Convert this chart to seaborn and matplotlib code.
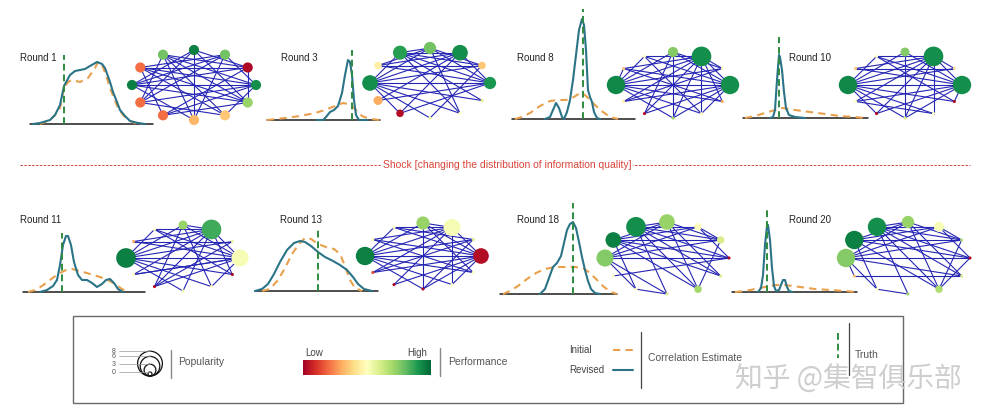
import numpy as np
import pandas as pd
import matplotlib
matplotlib.use("Agg")
import matplotlib.pyplot as plt
import seaborn as sns
from matplotlib.patches import Rectangle, Circle

# ---------------- data ----------------
round_labels = ["Round 1", "Round 3", "Round 8", "Round 10",
                "Round 11", "Round 13", "Round 18", "Round 20"]

# correlation-estimate densities (x: estimate position, y: density height)
r1_init_x = [10, 20, 25, 30, 34, 38, 42, 50, 58, 65, 68, 72, 76, 80, 84, 88, 93, 98, 105, 112]
r1_init_y = [0, 4, 9, 16, 36, 42, 44, 42, 46, 56, 62, 59, 49, 36, 26, 16, 9, 4, 1, 0]
r1_rev_x = [3, 10, 20, 25, 30, 34, 40, 45, 50, 55, 60, 67, 72, 75, 80, 83, 87, 90, 95, 100, 108, 115]
r1_rev_y = [0, 1, 4, 9, 19, 38, 49, 53, 54, 55, 58, 62, 60, 56, 42, 32, 22, 14, 8, 3, 1, 0]

r3_init_x = [0, 18, 33, 48, 58, 68, 76, 81, 85, 90, 95, 103, 113]
r3_init_y = [0, 2, 4, 7, 10, 14, 17, 16, 14, 9, 4, 1, 0]
r3_rev_x = [50, 56, 59, 63, 67, 71, 75, 78, 81, 83, 85, 87, 89, 92, 100]
r3_rev_y = [0, 0, 3, 8, 10, 14, 27, 45, 60, 58, 45, 20, 5, 0, 0]

r8_init_x = [3, 10, 18, 28, 38, 46, 54, 62, 68, 73, 78, 84, 91, 98, 106]
r8_init_y = [0, 2, 6, 13, 18, 19, 19, 22, 26, 24, 19, 13, 7, 2, 0]
r8_rev_x = [33, 38, 41, 44, 47, 50, 52, 55, 58, 61, 64, 67, 70, 72, 74, 76, 78, 80, 82, 85, 88]
r8_rev_y = [0, 2, 9, 16, 11, 2, 0, 7, 19, 39, 64, 89, 100, 94, 69, 29, 22, 17, 7, 1, 0]

r10_init_x = [2, 12, 22, 32, 39, 52, 67, 82, 97, 112, 122]
r10_init_y = [0, 2, 5, 8, 10, 8, 6, 4, 2, 1, 0]
r10_rev_x = [27, 30, 32, 34, 36, 37, 39, 41, 43, 46, 52, 62]
r10_rev_y = [0, 1, 8, 38, 63, 61, 48, 26, 10, 3, 1, 0]

r11_init_x = [5, 12, 19, 27, 35, 43, 49, 57, 67, 77, 85, 92, 99, 105]
r11_init_y = [0, 2, 6, 12, 18, 22, 23, 21, 18, 15, 12, 8, 3, 0]
r11_rev_x = [17, 24, 30, 34, 37, 40, 43, 45, 48, 51, 55, 59, 64, 69, 74, 79, 83, 87, 91, 95, 100]
r11_rev_y = [0, 2, 6, 12, 27, 47, 56, 56, 47, 30, 17, 12, 12, 9, 5, 8, 12, 13, 9, 3, 0]

r13_init_x = [7, 15, 23, 30, 37, 44, 50, 56, 63, 71, 79, 85, 90, 95, 100, 107]
r13_init_y = [0, 2, 11, 23, 37, 47, 53, 52, 47, 44, 42, 37, 25, 11, 3, 0]
r13_rev_x = [0, 7, 13, 19, 25, 32, 39, 45, 50, 56, 63, 70, 78, 85, 92, 98, 103, 109, 117]
r13_rev_y = [0, 2, 7, 17, 29, 41, 48, 50, 49, 45, 39, 34, 30, 26, 21, 14, 7, 2, 0]

r18_init_x = [3, 10, 18, 27, 36, 45, 55, 65, 75, 83, 90, 97, 104, 111, 117]
r18_init_y = [0, 3, 8, 15, 21, 25, 27, 27, 27, 26, 21, 14, 7, 2, 0]
r18_rev_x = [40, 45, 49, 53, 57, 61, 64, 67, 70, 73, 76, 79, 82, 85, 88, 91, 95, 100]
r18_rev_y = [0, 5, 16, 27, 31, 38, 51, 64, 70, 72, 66, 52, 37, 24, 13, 5, 1, 0]

r20_init_x = [3, 13, 23, 33, 43, 53, 68, 83, 98, 113, 124]
r20_init_y = [0, 1, 3, 5, 7, 7, 5, 3, 2, 1, 0]
r20_rev_x = [26, 29, 31, 33, 35, 36, 38, 40, 42, 44, 47, 49, 51, 53, 55, 57, 60]
r20_rev_y = [0, 4, 17, 47, 66, 67, 52, 24, 6, 1, 2, 7, 12, 12, 5, 1, 0]

truth_value = [34, 85, 71, 36, 39, 63, 73, 35]
truth_height = [69, 70, 110, 81, 59, 61, 91, 82]

# network: popularity (0-8) and performance (0-1) of 12 agents per round
pop_r1 = [2, 2, 2, 2, 2, 2, 2, 2, 2, 2, 2, 2]
perf_r1 = [0.95, 0.78, 0.02, 0.92, 0.72, 0.35, 0.32, 0.2, 0.2, 0.95, 0.2, 0.78]
pop_r3 = [3, 5, 1, 3, 0, 0, 0, 1, 1.5, 5, 1, 4]
perf_r3 = [0.78, 0.92, 0.35, 0.9, 0.6, 0.5, 0.55, 0.03, 0.3, 0.92, 0.45, 0.88]
pop_r8 = [2, 8, 0, 7, 0, 0, 0, 0, 0, 7, 0, 0]
perf_r8 = [0.75, 0.92, 0.5, 0.92, 0.3, 0.5, 0.7, 0.02, 0.45, 0.93, 0.35, 0.5]
pop_r10 = [1.5, 8, 0, 7, 0, 0, 0, 0, 0, 7, 0, 0]
perf_r10 = [0.75, 0.92, 0.4, 0.92, 0.02, 0.5, 0.6, 0.02, 0.5, 0.93, 0.35, 0.5]
pop_r11 = [1.5, 8, 0, 6, 0, 0, 0, 0, 0, 8, 0, 0]
perf_r11 = [0.72, 0.85, 0.55, 0.52, 0.02, 0.5, 0.55, 0.02, 0.5, 0.95, 0.3, 0.5]
pop_r13 = [3.5, 6, 0, 5, 0, 0, 0, 0, 0, 7, 0, 0]
perf_r13 = [0.72, 0.52, 0.6, 0.03, 0.5, 0.5, 0.02, 0.02, 0.15, 0.95, 0.5, 0.5]
pop_r18 = [5, 1, 1, 0, 0, 1, 0, 0, 0, 6, 5, 8]
perf_r18 = [0.72, 0.5, 0.6, 0.02, 0.6, 0.7, 0.6, 0.5, 0.5, 0.75, 0.95, 0.92]
pop_r20 = [3, 2, 0, 0, 0, 1, 0, 0, 0, 7, 7, 7]
perf_r20 = [0.72, 0.52, 0.65, 0.02, 0.6, 0.68, 0.7, 0.5, 0.35, 0.75, 0.95, 0.92]

edges_r1 = [(0, 2), (0, 4), (0, 8), (0, 9), (1, 3), (1, 6), (1, 9), (1, 10), (2, 4), (2, 7), (2, 9),
            (2, 10), (2, 11), (3, 5), (3, 8), (3, 10), (3, 11), (4, 7), (4, 9), (4, 11), (5, 8),
            (5, 10), (6, 9), (6, 11), (7, 3), (7, 10), (8, 11), (9, 3), (10, 4), (11, 5), (0, 6), (1, 8)]
edges_r3 = [(0, 2), (0, 3), (0, 9), (0, 10), (0, 11), (1, 3), (1, 8), (1, 9), (1, 10), (1, 11), (2, 9),
            (2, 11), (3, 7), (3, 9), (3, 10), (3, 11), (4, 9), (4, 11), (5, 11), (5, 0), (6, 9), (6, 2),
            (7, 9), (7, 1), (8, 3), (9, 11), (10, 2), (5, 9)]
edges_r8 = [(1, 2), (1, 3), (1, 4), (1, 5), (1, 6), (1, 7), (1, 8), (1, 9), (1, 10), (1, 11), (3, 0),
            (3, 5), (3, 6), (3, 7), (3, 8), (3, 9), (3, 10), (3, 11), (9, 0), (9, 2), (9, 4), (9, 5),
            (9, 6), (9, 11), (9, 10), (0, 2), (0, 6), (11, 5), (10, 4), (7, 0), (8, 2)]
edges_r10 = [(1, 2), (1, 3), (1, 5), (1, 6), (1, 7), (1, 8), (1, 9), (1, 10), (1, 11), (3, 0), (3, 4),
             (3, 6), (3, 7), (3, 8), (3, 9), (3, 10), (3, 11), (9, 0), (9, 2), (9, 4), (9, 5), (9, 6),
             (9, 11), (9, 7), (0, 6), (11, 4), (10, 2), (8, 5)]
edges_r11 = [(1, 0), (1, 3), (1, 4), (1, 6), (1, 7), (1, 8), (1, 9), (1, 10), (1, 11), (3, 0), (3, 5),
             (3, 7), (3, 8), (3, 9), (3, 10), (3, 11), (9, 0), (9, 2), (9, 4), (9, 5), (9, 6), (9, 11),
             (0, 5), (0, 7), (11, 4), (10, 2), (8, 3), (2, 7)]
edges_r13 = [(1, 0), (1, 3), (1, 5), (1, 7), (1, 8), (1, 9), (1, 10), (1, 11), (3, 0), (3, 5), (3, 6),
             (3, 7), (3, 8), (3, 9), (3, 10), (3, 11), (9, 0), (9, 2), (9, 4), (9, 5), (9, 6), (9, 11),
             (0, 4), (0, 6), (11, 2), (10, 4), (8, 2), (2, 6)]
edges_r18 = [(11, 0), (11, 1), (11, 2), (11, 3), (11, 4), (11, 5), (11, 6), (10, 0), (10, 1), (10, 2),
             (10, 3), (10, 4), (10, 5), (10, 7), (9, 0), (9, 1), (9, 2), (9, 3), (9, 6), (9, 7), (0, 2),
             (0, 4), (0, 5), (1, 3), (1, 2), (8, 3), (7, 6), (2, 5)]
edges_r20 = [(11, 0), (11, 1), (11, 2), (11, 3), (11, 4), (11, 5), (11, 6), (10, 0), (10, 1), (10, 2),
             (10, 3), (10, 5), (10, 7), (9, 0), (9, 1), (9, 2), (9, 3), (9, 4), (9, 7), (9, 8), (0, 2),
             (0, 4), (0, 5), (1, 3), (1, 2), (8, 4), (7, 6), (2, 5), (3, 5)]

popularity_levels = [0, 3, 6, 8]
shock_text = "Shock [changing the distribution of information quality]"

densities = [
    (r1_init_x, r1_init_y, r1_rev_x, r1_rev_y), (r3_init_x, r3_init_y, r3_rev_x, r3_rev_y),
    (r8_init_x, r8_init_y, r8_rev_x, r8_rev_y), (r10_init_x, r10_init_y, r10_rev_x, r10_rev_y),
    (r11_init_x, r11_init_y, r11_rev_x, r11_rev_y), (r13_init_x, r13_init_y, r13_rev_x, r13_rev_y),
    (r18_init_x, r18_init_y, r18_rev_x, r18_rev_y), (r20_init_x, r20_init_y, r20_rev_x, r20_rev_y),
]
networks = [(pop_r1, perf_r1, edges_r1), (pop_r3, perf_r3, edges_r3), (pop_r8, perf_r8, edges_r8),
            (pop_r10, perf_r10, edges_r10), (pop_r11, perf_r11, edges_r11), (pop_r13, perf_r13, edges_r13),
            (pop_r18, perf_r18, edges_r18), (pop_r20, perf_r20, edges_r20)]

# ---------------- layout (pixels) ----------------
W_PX, H_PX = 995, 417
dens_box = [(30, 153, 124), (267, 380, 120), (512, 635, 119), (743, 868, 118),
            (23, 145, 292), (255, 378, 291), (500, 617, 294), (732, 857, 292)]
label_pos = [(20, 58), (281, 58), (517, 58), (789, 58),
             (20, 220), (280, 220), (517, 220), (789, 220)]
net_geom = [(194, 85, 62, 35), (430, 83, 60, 35), (673, 85, 57, 33), (905, 85, 57, 33),
            (183, 258, 57, 33), (423, 256, 58, 33), (667, 258, 62, 36), (908, 258, 62, 36)]

TEAL = "#2b7487"
ORANGE = "#e9a04c"
GREEN = "#2e8b3e"
EDGE = "#2626b5"

sns.set_style("white")
plt.rcParams["font.family"] = ["Liberation Sans", "DejaVu Sans"]

fig = plt.figure(figsize=(W_PX / 100, H_PX / 100), dpi=100)


def box(l, t, w, h):
    return [l / W_PX, 1 - (t + h) / H_PX, w / W_PX, h / H_PX]


# overlay axes in pixel space for frames / separators
ov = fig.add_axes([0, 0, 1, 1])
ov.set_xlim(0, W_PX)
ov.set_ylim(H_PX, 0)
ov.axis("off")
ov.set_zorder(0)

DH = 115
for i in range(8):
    l, r, b = dens_box[i]
    w = r - l
    ax = fig.add_axes(box(l, b - DH, w, DH))
    ax.set_facecolor("none")
    ax.set_zorder(2)
    ix, iy, rx_, ry_ = densities[i]
    ax.axhline(0, color="#1c1c1c", lw=1.1, zorder=1)
    sns.lineplot(x=ix, y=iy, ax=ax, color=ORANGE, lw=1.5, sort=False, estimator=None, zorder=2)
    ax.lines[-1].set_dashes([3.5, 2.5])
    sns.lineplot(x=rx_, y=ry_, ax=ax, color=TEAL, lw=1.5, sort=False, estimator=None, zorder=3)
    t = truth_value[i]
    ax.plot([t, t], [0, truth_height[i]], color=GREEN, lw=1.4, dashes=[3.5, 2], zorder=4)
    ax.set_xlim(0, w)
    ax.set_ylim(0, DH)
    ax.axis("off")
    for ln in ax.lines:
        ln.set_clip_on(False)
    lx, ly = label_pos[i]
    fig.text(lx / W_PX, 1 - ly / H_PX, round_labels[i], fontsize=7, color="#222222",
             ha="left", va="center")

# networks
for i in range(8):
    cx, cy, erx, ery = net_geom[i]
    pad = 1.3
    ax = fig.add_axes(box(cx - pad * erx, cy - pad * ery, 2 * pad * erx, 2 * pad * ery))
    ax.set_facecolor("none")
    ax.set_zorder(3)
    pop, perf, edges = networks[i]
    ang = np.deg2rad(90 - 30 * np.arange(len(pop)))
    nx, ny = np.cos(ang), np.sin(ang)
    rows = []
    for k, (a, b) in enumerate(edges):
        rows.append({"x": nx[a], "y": ny[a], "edge": k})
        rows.append({"x": nx[b], "y": ny[b], "edge": k})
    edf = pd.DataFrame(rows)
    sns.lineplot(data=edf, x="x", y="y", units="edge", estimator=None, sort=False,
                 color=EDGE, lw=0.8, ax=ax, zorder=1)
    ndf = pd.DataFrame({"x": nx, "y": ny, "pop": pop, "perf": perf})
    sns.scatterplot(data=ndf, x="x", y="y", hue="perf", palette="RdYlGn", hue_norm=(0, 1),
                    size="pop", sizes=(5, 200), size_norm=(0, 8), legend=False,
                    edgecolor="none", ax=ax, zorder=3)
    ax.set_xlim(-pad, pad)
    ax.set_ylim(-pad, pad)
    ax.axis("off")

# shock divider
ov.plot([20, 970], [165, 165], color="#d9443a", lw=0.7, dashes=[2.5, 1.5])
ov.text(507, 165, shock_text, fontsize=7.5, color="#d9443a", ha="center", va="center",
        bbox=dict(boxstyle="square,pad=0.15", fc="white", ec="none"))

# legend frame
ov.add_patch(Rectangle((73, 316), 830, 87, fill=False, ec="#6a6a6a", lw=1.0))

# popularity legend
for v in popularity_levels:
    d = 4 + 2.6 * v
    ov.add_patch(Circle((150, 376 - d / 2), d / 2, fill=False, ec="#111111", lw=0.9))
    ty = 376 - d
    ov.plot([119, 150], [ty, ty], color="#999999", lw=0.5)
    ov.text(116, ty, str(v), fontsize=5, color="#555555", ha="right", va="center")
ov.plot([171, 171], [350, 378], color="#888888", lw=1)
ov.text(178, 362, "Popularity", fontsize=7.5, color="#555555", ha="left", va="center")

# performance colorbar
cax = fig.add_axes(box(303, 360, 128, 15))
cax.imshow(np.linspace(0, 1, 256)[None, :], cmap="RdYlGn", aspect="auto")
cax.axis("off")
ov.text(305, 353, "Low", fontsize=7, color="#444444", ha="left", va="center")
ov.text(427, 353, "High", fontsize=7, color="#444444", ha="right", va="center")
ov.plot([440, 440], [348, 376], color="#888888", lw=1)
ov.text(448, 362, "Performance", fontsize=7.5, color="#555555", ha="left", va="center")

# correlation estimate legend
ov.text(569, 350, "Initial", fontsize=7, color="#444444", ha="left", va="center")
ov.plot([613, 633], [350, 350], color=ORANGE, lw=1.5, dashes=[3.5, 2.5])
ov.text(569, 370, "Revised", fontsize=7, color="#444444", ha="left", va="center")
ov.plot([613, 633], [370, 370], color=TEAL, lw=1.5)
ov.plot([641, 641], [332, 388], color="#444444", lw=0.9)
ov.text(648, 358, "Correlation Estimate", fontsize=7.5, color="#555555", ha="left", va="center")

# truth legend
ov.plot([838, 838], [333, 358], color=GREEN, lw=1.4, dashes=[3.5, 2])
ov.plot([849, 849], [323, 375], color="#444444", lw=0.9)
ov.text(855, 355, "Truth", fontsize=7.5, color="#555555", ha="left", va="center")

# watermark
ov.text(848, 380, "知乎 @集智俱乐部", fontsize=20, color="#c9c9c9", ha="center", va="center",
        family=["Noto Sans CJK SC", "DejaVu Sans"], alpha=0.9)

fig.savefig("out.png", dpi=100)
